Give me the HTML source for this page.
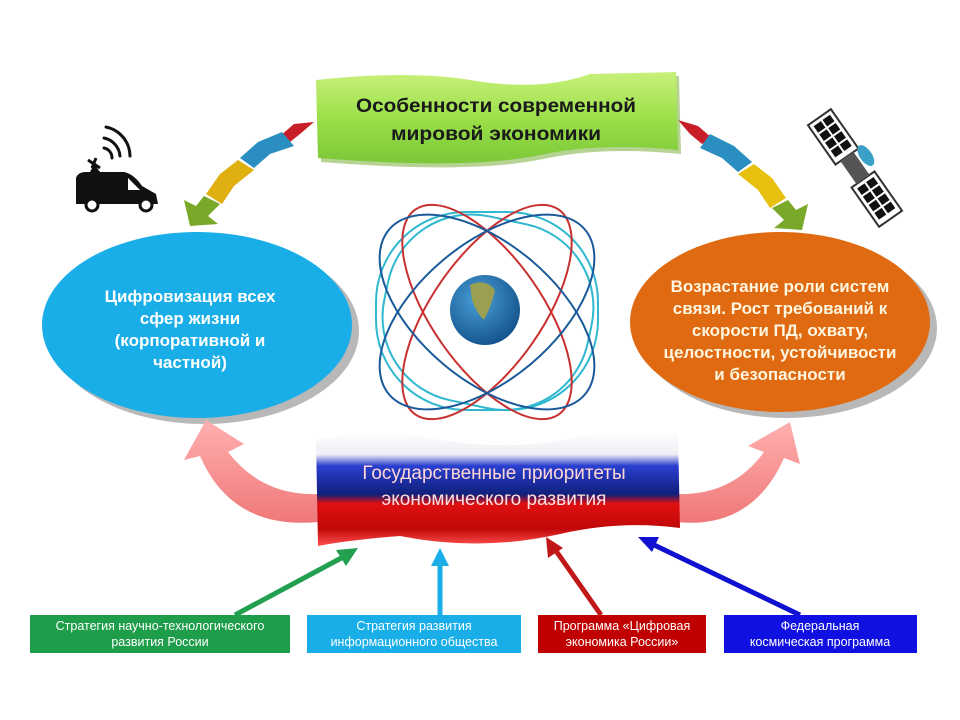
<!DOCTYPE html>
<html><head><meta charset="utf-8"><style>
html,body{margin:0;padding:0;background:#fff;width:960px;height:720px;overflow:hidden}
svg{display:block}
text{font-family:"Liberation Sans","DejaVu Sans",sans-serif}
</style></head><body>
<svg width="960" height="720" viewBox="0 0 960 720" xmlns="http://www.w3.org/2000/svg">
<defs>
<linearGradient id="gr" x1="0" y1="0" x2="0" y2="1"><stop offset="0" stop-color="#c8f07a"/><stop offset="0.5" stop-color="#9be04a"/><stop offset="1" stop-color="#7cc838"/></linearGradient>
<linearGradient id="flag" x1="0" y1="0" x2="0" y2="1">
<stop offset="0" stop-color="#ffffff"/><stop offset="0.2" stop-color="#eeeef4"/><stop offset="0.3" stop-color="#2a3fd0"/><stop offset="0.55" stop-color="#10207a"/><stop offset="0.63" stop-color="#e01010"/><stop offset="0.85" stop-color="#c00808"/><stop offset="1" stop-color="#ff5050"/></linearGradient>
<radialGradient id="globe" cx="0.4" cy="0.35" r="0.7"><stop offset="0" stop-color="#4aa0d8"/><stop offset="1" stop-color="#12508a"/></radialGradient>
<linearGradient id="pink" x1="0" y1="0" x2="0" y2="1"><stop offset="0" stop-color="#ffb0b0"/><stop offset="1" stop-color="#f07878"/></linearGradient>
</defs>

<!-- top curved segmented arrows -->
<path d="M314,122 L294,124 L280,136 L290,142 L300,134 Z" fill="#c81e28"/>
<path d="M282,132 L258,142 L240,158 L254,168 L270,154 L294,146 Z" fill="#2a8fc0"/>
<path d="M238,160 L220,174 L206,194 L222,204 L234,186 L254,170 Z" fill="#e0b010"/>
<path d="M204,196 L196,206 L184,200 L190,226 L218,224 L208,216 L220,204 Z" fill="#7aa828"/>
<path d="M678,120 L698,126 L712,138 L702,144 L690,134 Z" fill="#c81e28"/>
<path d="M710,134 L734,146 L752,162 L738,172 L722,158 L700,148 Z" fill="#2a8fc0"/>
<path d="M754,164 L772,178 L786,198 L770,208 L758,190 L738,174 Z" fill="#e8c010"/>
<path d="M788,200 L796,210 L808,204 L802,230 L774,228 L784,220 L772,208 Z" fill="#7aa828"/>

<!-- green banner -->
<path d="M316,80 Q410,70 470,80 Q540,92 590,74 L676,72 L678,150 Q600,142 540,155 Q470,170 318,158 Z" fill="#6fa82a" transform="translate(3,4)" opacity="0.5"/>
<path d="M316,80 Q410,70 470,80 Q540,92 590,74 L676,72 L678,150 Q600,142 540,155 Q470,170 318,158 Z" fill="url(#gr)"/>
<text x="496" y="112" font-size="19" font-weight="bold" text-anchor="middle" fill="#1a1a1a" textLength="280" lengthAdjust="spacingAndGlyphs">Особенности современной</text>
<text x="496" y="140" font-size="19" font-weight="bold" text-anchor="middle" fill="#1a1a1a" textLength="210" lengthAdjust="spacingAndGlyphs">мировой экономики</text>

<!-- van -->
<g fill="#111">
<path d="M76,204 L76,178 Q78,172 86,172 L124,172 Q134,174 142,186 L156,194 L158,204 Z"/>
<circle cx="92" cy="205" r="6" fill="#fff" stroke="#111" stroke-width="3"/>
<circle cx="146" cy="205" r="6" fill="#fff" stroke="#111" stroke-width="3"/>
<path d="M128,178 L140,190 L128,190 Z" fill="#fff"/>
<path d="M90,172 L94,164 L100,172 Z"/>
<path d="M88,160 L100,168 M96,158 L92,168" stroke="#111" stroke-width="3"/>
</g>
<g fill="none" stroke="#111" stroke-width="3" stroke-linecap="round">
<path d="M104,148 A10 10 0 0 1 112,158"/>
<path d="M104,138 A20 20 0 0 1 120,156"/>
<path d="M106,127 A30 30 0 0 1 130,156"/>
</g>

<!-- satellite -->
<g transform="translate(855,168) rotate(-35)">
<rect x="-14" y="-62" width="28" height="48" fill="#fff" stroke="#333" stroke-width="2"/>
<g fill="#111">
<rect x="-10" y="-58" width="9" height="8"/><rect x="1" y="-58" width="9" height="8"/>
<rect x="-10" y="-48" width="9" height="8"/><rect x="1" y="-48" width="9" height="8"/>
<rect x="-10" y="-38" width="9" height="8"/><rect x="1" y="-38" width="9" height="8"/>
<rect x="-10" y="-28" width="9" height="8"/><rect x="1" y="-28" width="9" height="8"/>
</g>
<rect x="-14" y="14" width="28" height="48" fill="#fff" stroke="#333" stroke-width="2"/>
<g fill="#111">
<rect x="-10" y="18" width="9" height="8"/><rect x="1" y="18" width="9" height="8"/>
<rect x="-10" y="28" width="9" height="8"/><rect x="1" y="28" width="9" height="8"/>
<rect x="-10" y="38" width="9" height="8"/><rect x="1" y="38" width="9" height="8"/>
<rect x="-10" y="48" width="9" height="8"/><rect x="1" y="48" width="9" height="8"/>
</g>
<rect x="-8" y="-14" width="16" height="28" fill="#555"/>
<ellipse cx="16" cy="-4" rx="6" ry="12" fill="#3aa0c8"/>
</g>

<!-- left ellipse -->
<ellipse cx="204" cy="331" rx="155" ry="93" fill="#b8b8b8"/>
<ellipse cx="197" cy="325" rx="155" ry="93" fill="#1aaee8"/>
<g font-size="17" font-weight="bold" fill="#fff" text-anchor="middle">
<text x="190" y="302">Цифровизация всех</text>
<text x="190" y="324">сфер жизни</text>
<text x="190" y="346">(корпоративной и</text>
<text x="190" y="368">частной)</text>
</g>

<!-- right ellipse -->
<ellipse cx="787" cy="328" rx="150" ry="90" fill="#b8b8b8"/>
<ellipse cx="780" cy="322" rx="150" ry="90" fill="#e06a12"/>
<g font-size="17" font-weight="bold" fill="#fff6e0" text-anchor="middle">
<text x="780" y="292">Возрастание роли систем</text>
<text x="780" y="314">связи. Рост требований к</text>
<text x="780" y="336">скорости ПД, охвату,</text>
<text x="780" y="358">целостности, устойчивости</text>
<text x="780" y="380">и безопасности</text>
</g>

<!-- orbits -->
<g fill="none" stroke-width="2">
<rect x="376" y="212" width="222" height="198" rx="90" stroke="#30b8d0"/>
<rect x="384" y="218" width="208" height="188" rx="85" stroke="#30b8d0" transform="rotate(12 487 312)"/>
<ellipse cx="487" cy="312" rx="125" ry="55" stroke="#c83030" transform="rotate(55 487 312)"/>
<ellipse cx="487" cy="312" rx="125" ry="55" stroke="#c83030" transform="rotate(-55 487 312)"/>
<ellipse cx="487" cy="312" rx="128" ry="68" stroke="#1a5a9a" transform="rotate(40 487 312)"/>
<ellipse cx="487" cy="312" rx="128" ry="68" stroke="#1a5a9a" transform="rotate(-40 487 312)"/>
</g>
<circle cx="485" cy="310" r="35" fill="url(#globe)"/>
<path d="M470,285 Q485,278 495,290 Q492,305 484,320 Q476,312 472,300 Z" fill="#9aa050"/>

<!-- pink arrows -->
<path d="M318,494 Q262,496 228,452 L244,444 L206,420 L184,460 L200,456 Q232,530 318,522 Z" fill="url(#pink)"/>
<path d="M676,494 Q732,496 764,452 L748,446 L790,422 L800,464 L784,458 Q752,530 676,522 Z" fill="url(#pink)"/>

<!-- flag -->
<path d="M316,440 Q380,426 440,440 Q520,452 580,436 Q630,428 678,434 L680,528 Q620,520 560,534 Q480,552 400,536 Q350,540 318,546 Z" fill="url(#flag)"/>
<text x="494" y="479" font-size="19" text-anchor="middle" fill="#ffd6d6">Государственные приоритеты</text>
<text x="494" y="505" font-size="19" text-anchor="middle" fill="#ffe0e0">экономического развития</text>

<!-- bottom arrows -->
<g stroke-width="5">
<line x1="235" y1="615" x2="345" y2="556" stroke="#22a050"/>
<path d="M358,548 L336,550 L346,566 Z" fill="#22a050"/>
<line x1="440" y1="615" x2="440" y2="560" stroke="#1aaee8"/>
<path d="M440,548 L431,566 L449,566 Z" fill="#1aaee8"/>
<line x1="601" y1="615" x2="554" y2="548" stroke="#c01818"/>
<path d="M546,537 L548,558 L563,548 Z" fill="#c01818"/>
<line x1="800" y1="615" x2="650" y2="543" stroke="#1010d0"/>
<path d="M638,537 L652,552 L659,537 Z" fill="#1010d0"/>
</g>

<!-- bottom boxes -->
<rect x="30" y="615" width="260" height="38" fill="#1e9e4a"/>
<rect x="307" y="615" width="214" height="38" fill="#1aaee8"/>
<rect x="538" y="615" width="168" height="38" fill="#c00000"/>
<rect x="724" y="615" width="193" height="38" fill="#1010e0"/>
<g font-size="12.5" fill="#fff" text-anchor="middle">
<text x="160" y="630">Стратегия научно-технологического</text>
<text x="160" y="646">развития России</text>
<text x="414" y="630">Стратегия развития</text>
<text x="414" y="646">информационного общества</text>
<text x="622" y="630">Программа «Цифровая</text>
<text x="622" y="646">экономика России»</text>
<text x="820" y="630">Федеральная</text>
<text x="820" y="646">космическая программа</text>
</g>
</svg>
</body></html>
